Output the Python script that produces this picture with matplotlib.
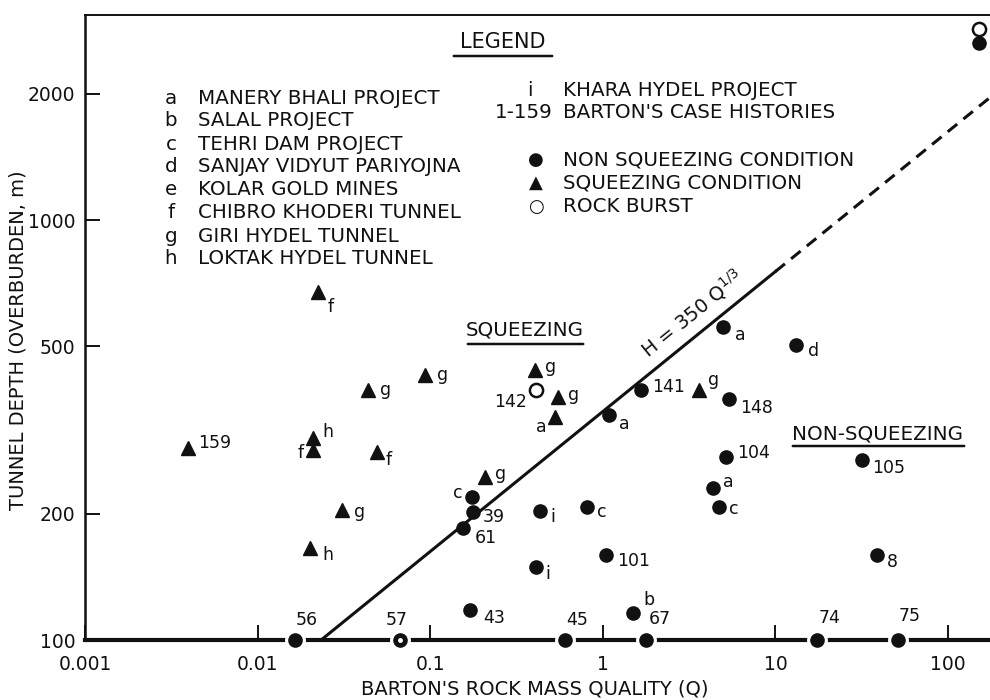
"""
Tunnel depth vs Barton's Q - squeezing / non-squeezing case histories
"""

import numpy as np
import matplotlib
matplotlib.use('Agg')
import matplotlib.pyplot as plt
from matplotlib.ticker import FixedLocator, NullLocator

#---------------------------------------------------------------------------------------------------
# Data
#---------------------------------------------------------------------------------------------------

# Squeezing condition (filled triangles)
sq_q = [0.0224, 0.0437, 0.0933, 0.00395, 0.0209, 0.0209, 0.0492, 0.208, 0.0308, 0.0201,
        0.405, 0.55, 0.53, 3.61]
sq_h = [674, 394, 428, 286, 303, 283, 281, 244, 204, 166, 439, 379, 340, 394]
sq_lbl = ['f', 'g', 'g', '159', 'h', 'f', 'f', 'g', 'g', 'h', 'g', 'g', 'a', 'g']

# Non squeezing condition (filled circles)
ns_q = [0.175, 0.177, 0.155, 0.170, 0.0165, 0.0668, 0.604, 1.78, 17.4, 51.3,
        4.97, 13.2, 1.087, 1.66, 5.38, 5.17, 31.8, 4.35, 4.71, 0.433,
        0.81, 1.04, 0.41, 38.8, 1.50, 151]
ns_h = [219, 202, 185, 118, 100, 100, 100, 100, 100, 100,
        556, 504, 343, 394, 375, 273, 268, 230, 207, 203,
        207, 159, 149, 159, 116, 2640]
ns_lbl = ['c', '39', '61', '43', '56', '57', '45', '67', '74', '75',
          'a', 'd', 'a', '141', '148', '104', '105', 'a', 'c', 'i',
          'c', '101', 'i', '8', 'b', '']

# Rock burst (open circles)
rb_q = [0.41, 151]
rb_h = [394, 2850]
rb_lbl = ['142', '']

# Boundary H = 350 Q^(1/3), solid up to Q = 10, dashed beyond
h_coef = 350.
q_solid_end = 10.

xticks = [0.001, 0.01, 0.1, 1, 10, 100]
xtick_lbl = ['0.001', '0.01', '0.1', '1', '10', '100']
yticks = [100, 200, 500, 1000, 2000]
ytick_lbl = ['100', '200', '500', '1000', '2000']

legend_proj = [('a', 'MANERY BHALI PROJECT'), ('b', 'SALAL PROJECT'), ('c', 'TEHRI DAM PROJECT'),
               ('d', 'SANJAY VIDYUT PARIYOJNA'), ('e', 'KOLAR GOLD MINES'),
               ('f', 'CHIBRO KHODERI TUNNEL'), ('g', 'GIRI HYDEL TUNNEL'),
               ('h', 'LOKTAK HYDEL TUNNEL')]

# label offsets (pixels, +y up) and alignment for each point
sq_off = [(10, -15, 'left'), (12, 0, 'left'), (12, 0, 'left'), (10, 5, 'left'), (10, 6, 'left'),
          (-9, -3, 'right'), (9, -8, 'left'), (10, 3, 'left'), (12, -2, 'left'), (12, -7, 'left'),
          (10, 3, 'left'), (10, 2, 'left'), (-9, -10, 'right'), (9, 10, 'left')]
ns_off = [(-10, 4, 'right'), (10, -5, 'left'), (12, -10, 'left'), (13, -8, 'left'),
          (12, 20, 'center'), (-3, 20, 'center'), (12, 20, 'center'), (14, 21, 'center'),
          (13, 22, 'center'), (12, 24, 'center'),
          (12, -8, 'left'), (12, -6, 'left'), (10, -9, 'left'), (11, 3, 'left'), (11, -9, 'left'),
          (11, 4, 'left'), (10, -8, 'left'), (10, 6, 'left'), (10, -2, 'left'), (10, -6, 'left'),
          (10, -5, 'left'), (11, -6, 'left'), (9, -7, 'left'), (10, -7, 'left'), (10, 13, 'left'),
          (0, 0, 'left')]
rb_off = [(-9, -12, 'right'), (0, 0, 'left')]

#---------------------------------------------------------------------------------------------------
# Plot
#---------------------------------------------------------------------------------------------------

W, H = 990, 700
ink = '#111111'
plt.rcParams['font.family'] = 'DejaVu Sans'

def fx(x, y):
    # pixel position -> figure fraction
    return x / W, 1 - y / H

fig = plt.figure(figsize=(W / 100, H / 100), dpi=100)
ax = fig.add_axes([85 / W, 60 / H, (W - 85) / W, (640 - 15) / H])
ax.set_xscale('log')
ax.set_yscale('log')
ax.set_xlim(0.001, 175)
ax.set_ylim(100, 3077)

ax.spines['right'].set_visible(False)
ax.spines['left'].set_linewidth(1.8)
ax.spines['top'].set_linewidth(1.4)
ax.spines['bottom'].set_linewidth(3.0)
for s in ax.spines.values():
    s.set_color(ink)

ax.xaxis.set_major_locator(FixedLocator(xticks))
ax.xaxis.set_minor_locator(NullLocator())
ax.set_xticklabels(xtick_lbl)
ax.yaxis.set_major_locator(FixedLocator(yticks))
ax.yaxis.set_minor_locator(NullLocator())
ax.set_yticklabels(ytick_lbl)
ax.tick_params(axis='both', direction='in', length=11, width=1.4, colors=ink, labelsize=13.5)
ax.tick_params(axis='x', pad=11)
ax.tick_params(axis='y', pad=7)

ax.set_xlabel("BARTON'S ROCK MASS QUALITY (Q)", fontsize=14, color=ink)
ax.xaxis.set_label_coords(0.497, -0.063)
ax.set_ylabel('TUNNEL DEPTH (OVERBURDEN, m)', fontsize=14, color=ink)
ax.yaxis.set_label_coords(-0.064, 0.48)

# Boundary line
q1 = np.logspace(np.log10((100. / h_coef) ** 3), np.log10(q_solid_end), 50)
q2 = np.logspace(np.log10(q_solid_end), np.log10(175), 50)
ax.plot(q1, h_coef * q1 ** (1. / 3.), c=ink, lw=2.2, zorder=2)
ax.plot(q2, h_coef * q2 ** (1. / 3.), c=ink, lw=2.2, ls=(0, (4, 2.6)), zorder=2)

# angle of the boundary line on screen
p0 = ax.transData.transform((1., h_coef))
p1 = ax.transData.transform((10., h_coef * 10 ** (1. / 3.)))
ang = np.degrees(np.arctan2(p1[1] - p0[1], p1[0] - p0[0]))
ax.text(3.3, 600, r'H = 350 Q$^{1/3}$', rotation=ang, ha='center', va='center',
        rotation_mode='anchor', fontsize=14, color=ink)

# Points; circles on the axis get a white halo to break the thick axis line
on_axis = [h <= 100 for h in ns_h]
ax.plot([q for q, a in zip(ns_q, on_axis) if a], [h for h, a in zip(ns_h, on_axis) if a],
        ls='none', marker='o', ms=14, mfc='white', mec='white', zorder=3, clip_on=False)
ax.plot(ns_q, ns_h, ls='none', marker='o', ms=9.5, mfc=ink, mec=ink, zorder=4, clip_on=False)
ax.plot([ns_q[5]], [ns_h[5]], ls='none', marker='o', ms=2.5, mfc='white', mec='white',
        zorder=5, clip_on=False)
ax.plot(sq_q, sq_h, ls='none', marker='^', ms=10.5, mfc=ink, mec=ink, zorder=4)
ax.plot(rb_q, rb_h, ls='none', marker='o', ms=9.5, mfc='white', mec=ink, mew=1.8, zorder=4,
        clip_on=False)

for qs, hs, lbls, offs in [(sq_q, sq_h, sq_lbl, sq_off), (ns_q, ns_h, ns_lbl, ns_off),
                           (rb_q, rb_h, rb_lbl, rb_off)]:
    for q, h, l, (dx, dy, ha) in zip(qs, hs, lbls, offs):
        if l:
            ax.annotate(l, (q, h), xytext=(dx, dy), textcoords='offset pixels',
                        ha=ha, va='center', fontsize=12.5, color=ink, zorder=6)

# Region labels
fs = 14.3
fig.text(*fx(525, 330), 'SQUEEZING', ha='center', va='center', fontsize=fs, color=ink)
ax.annotate('', xy=fx(465, 344), xytext=fx(586, 344), xycoords='figure fraction',
            arrowprops=dict(arrowstyle='-', lw=1.8, color=ink))
fig.text(*fx(878, 434), 'NON-SQUEEZING', ha='center', va='center', fontsize=fs, color=ink)
ax.annotate('', xy=fx(790, 446), xytext=fx(967, 446), xycoords='figure fraction',
            arrowprops=dict(arrowstyle='-', lw=1.8, color=ink))

# Legend block
fig.text(*fx(503, 42), 'LEGEND', ha='center', va='center', fontsize=15, color=ink)
ax.annotate('', xy=fx(451, 56), xytext=fx(555, 56), xycoords='figure fraction',
            arrowprops=dict(arrowstyle='-', lw=1.8, color=ink))
for i, (k, name) in enumerate(legend_proj):
    y = 98 + i * 23.
    fig.text(*fx(171, y), k, ha='center', va='center', fontsize=fs, color=ink)
    fig.text(*fx(198, y), name, ha='left', va='center', fontsize=fs, color=ink)

fig.text(*fx(530, 91), 'i', ha='center', va='center', fontsize=fs, color=ink)
fig.text(*fx(563, 91), 'KHARA HYDEL PROJECT', ha='left', va='center', fontsize=fs, color=ink)
fig.text(*fx(553, 113), '1-159', ha='right', va='center', fontsize=fs, color=ink)
fig.text(*fx(563, 113), "BARTON'S CASE HISTORIES", ha='left', va='center', fontsize=fs, color=ink)

for y, sym, name in [(160, '\u25CF', 'NON SQUEEZING CONDITION'),
                     (183, '\u25B2', 'SQUEEZING CONDITION'),
                     (207, '\u25CB', 'ROCK BURST')]:
    fig.text(*fx(536, y), sym, ha='center', va='center', fontsize=13, color=ink)
    fig.text(*fx(563, y), name, ha='left', va='center', fontsize=fs, color=ink)

plt.savefig('out.png', dpi=100)
